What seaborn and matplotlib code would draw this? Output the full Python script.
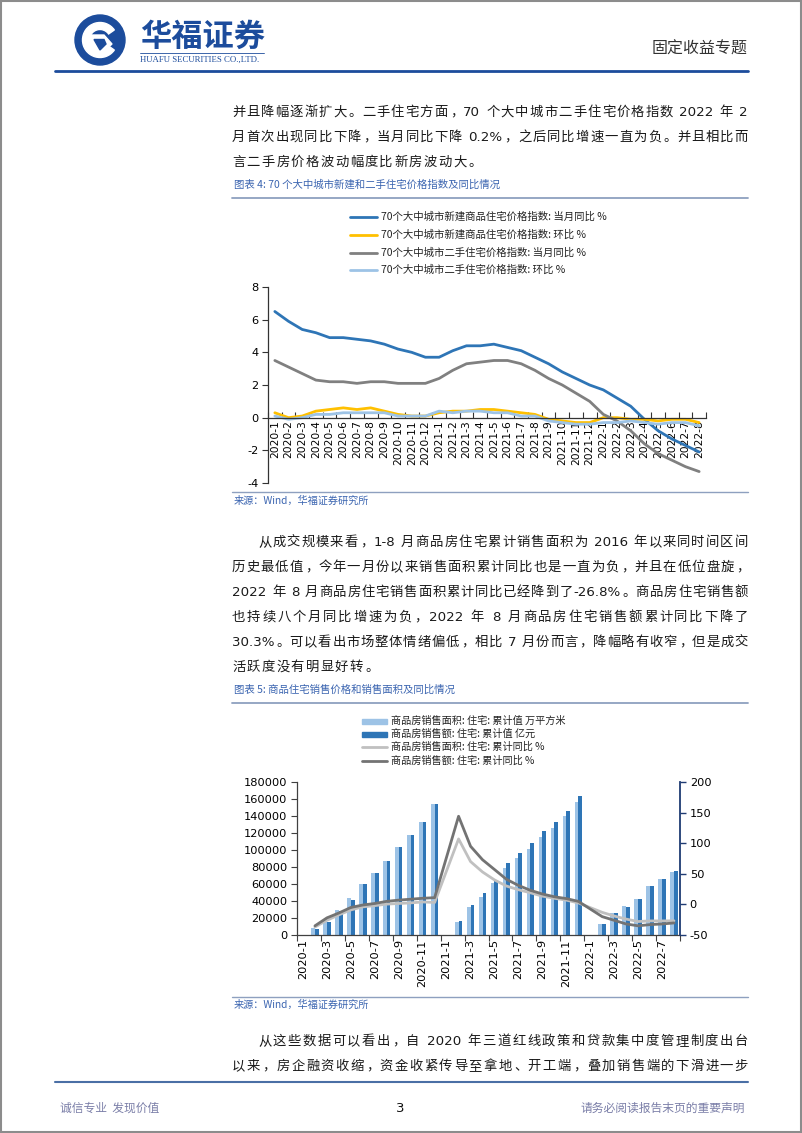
import numpy as np
import pandas as pd
import matplotlib
matplotlib.use("Agg")
import matplotlib.pyplot as plt
import seaborn as sns
from matplotlib.patches import Rectangle, Circle, Wedge, Polygon

# ---------------- data ----------------
months = ["2020-1", "2020-2", "2020-3", "2020-4", "2020-5", "2020-6", "2020-7", "2020-8",
          "2020-9", "2020-10", "2020-11", "2020-12", "2021-1", "2021-2", "2021-3", "2021-4",
          "2021-5", "2021-6", "2021-7", "2021-8", "2021-9", "2021-10", "2021-11", "2021-12",
          "2022-1", "2022-2", "2022-3", "2022-4", "2022-5", "2022-6", "2022-7", "2022-8"]

# chart 1 (%)
new_yoy = [6.5, 5.9, 5.4, 5.2, 4.9, 4.9, 4.8, 4.7, 4.5, 4.2, 4.0, 3.7, 3.7, 4.1, 4.4, 4.4,
           4.5, 4.3, 4.1, 3.7, 3.3, 2.8, 2.4, 2.0, 1.7, 1.2, 0.7, -0.1, -0.8, -1.3, -1.7, -2.1]
new_mom = [0.3, 0.0, 0.1, 0.4, 0.5, 0.6, 0.5, 0.6, 0.4, 0.2, 0.1, 0.1, 0.3, 0.4, 0.4, 0.5,
           0.5, 0.4, 0.3, 0.2, -0.1, -0.2, -0.3, -0.3, 0.0, 0.0, -0.1, -0.1, -0.2, -0.1, -0.1, -0.3]
sh_yoy = [3.5, 3.1, 2.7, 2.3, 2.2, 2.2, 2.1, 2.2, 2.2, 2.1, 2.1, 2.1, 2.4, 2.9, 3.3, 3.4,
          3.5, 3.5, 3.3, 2.9, 2.4, 2.0, 1.5, 1.0, 0.2, -0.2, -0.8, -1.6, -2.2, -2.6, -3.0, -3.3]
sh_mom = [0.1, -0.1, 0.0, 0.2, 0.2, 0.3, 0.3, 0.3, 0.3, 0.1, 0.1, 0.1, 0.4, 0.3, 0.4, 0.4,
          0.3, 0.3, 0.1, 0.1, -0.2, -0.3, -0.4, -0.4, -0.3, -0.3, -0.2, -0.3, -0.4, -0.3, -0.3, -0.5]
series1 = ["70个大中城市新建商品住宅价格指数: 当月同比 %",
           "70个大中城市新建商品住宅价格指数: 环比 %",
           "70个大中城市二手住宅价格指数: 当月同比 %",
           "70个大中城市二手住宅价格指数: 环比 %"]
colors1 = ["#2e75b6", "#ffc000", "#808080", "#9dc3e6"]

# chart 2
area_cum = [None, 7800, 18500, 30000, 43000, 60500, 73500, 87000, 103500, 118000, 133000, 154500,
            None, 15000, 32500, 45000, 61000, 79000, 91000, 101500, 115000, 126000, 139500, 157000,
            None, 13500, 26000, 34000, 42500, 58000, 65500, 74000]
amount_cum = [None, 6700, 15800, 27800, 41000, 59500, 72500, 87000, 103500, 118000, 133000, 154500,
              None, 17000, 35000, 49000, 63500, 85000, 97000, 108000, 122000, 133000, 146000, 163000,
              None, 13500, 26000, 33000, 42500, 57500, 66000, 75500]
area_yoy = [None, -37, -26, -17, -9, -4, -2, 0.5, 1.5, 2.5, 4, 3.2,
            None, 107, 70, 53, 40, 30, 24, 19, 13.5, 10, 7, 2.5,
            None, -13, -19, -24, -28, -27, -27, -26.8]
amount_yoy = [None, -35, -22, -14, -5, -1, 1.5, 5, 7, 8.5, 10, 11,
              None, 144, 95, 73, 57, 41, 31, 23, 17, 12.5, 9.5, 5,
              None, -20, -26, -32, -35, -33, -32, -30.3]
series2 = ["商品房销售面积: 住宅: 累计值 万平方米",
           "商品房销售额: 住宅: 累计值 亿元",
           "商品房销售面积: 住宅: 累计同比 %",
           "商品房销售额: 住宅: 累计同比 %"]
colors2 = ["#9dc3e6", "#2e75b6", "#c0c0c0", "#737373"]

left_ticks = [0, 20000, 40000, 60000, 80000, 100000, 120000, 140000, 160000, 180000]
right_ticks = [-50, 0, 50, 100, 150, 200]
y1_ticks = [-4, -2, 0, 2, 4, 6, 8]

# ---------------- setup ----------------
sns.set_theme(style="white")
plt.rcParams["font.family"] = ["Noto Sans CJK SC", "DejaVu Sans"]
plt.rcParams["axes.unicode_minus"] = False

W, H = 802, 1133
fig = plt.figure(figsize=(W / 100, H / 100), dpi=100)
fig.patch.set_facecolor("white")
page = fig.add_axes([0, 0, 1, 1], zorder=0)
page.set_xlim(0, W)
page.set_ylim(H, 0)
page.axis("off")
renderer = fig.canvas.get_renderer()


def fbox(x0, y0, x1, y1):
    return [x0 / W, 1 - y1 / H, (x1 - x0) / W, (y1 - y0) / H]


BLUE = "#1c4c9c"
CAP = "#3a64b0"
BODY_FS = 9.6
PUNCT = set("，。、：；！？")


def tokenize(s):
    toks, buf = [], ""
    for ch in s:
        if ch == " ":
            if buf:
                toks.append(buf)
                buf = ""
            toks.append(" ")
        elif ord(ch) < 128:
            buf += ch
        else:
            if buf:
                toks.append(buf)
                buf = ""
            toks.append(ch)
    if buf:
        toks.append(buf)
    return toks


def draw_line(s, x0, yc, x1=None, gap=1.4, fs=BODY_FS, color="#1a1a1a"):
    em = fs * 100 / 72
    toks = tokenize(s)
    widths = []
    for t in toks:
        if t == " ":
            widths.append(0.3 * em)
        elif len(t) == 1 and ord(t) >= 0x2E80:
            widths.append(em)
        else:
            tt = page.text(0, 0, t, fontsize=fs, family="DejaVu Sans")
            widths.append(tt.get_window_extent(renderer).width)
            tt.remove()
    if x1 is not None:
        gap = (x1 - x0 - sum(widths)) / (len(toks) - 1)
    x = x0
    base = yc + 0.36 * em
    for t, w in zip(toks, widths):
        if t != " ":
            if len(t) == 1 and ord(t) >= 0x2E80:
                if t in PUNCT:
                    page.text(x + 0.08 * em, base, t, ha="left", va="baseline", fontsize=fs, color=color)
                else:
                    page.text(x + w / 2, base, t, ha="center", va="baseline", fontsize=fs, color=color)
            else:
                page.text(x, base, t, ha="left", va="baseline", fontsize=fs, color=color,
                          family="DejaVu Sans")
        x += w + gap


# ---------------- page furniture ----------------
page.add_patch(Rectangle((0.75, 0.75), W - 1.5, H - 1.5, fill=False, ec="#8c8c8c", lw=1.5))
# logo
LC = (100, 40)
page.add_patch(Circle(LC, 25, color=BLUE))
page.add_patch(Wedge(LC, 17.5, 35, 325, width=7, color="white"))
page.add_patch(Polygon([[90, 35], [104, 35], [112, 44], [100, 55], [90, 45]], closed=True, color="white"))
page.add_patch(Polygon([[94, 39.5], [104, 39.5], [106, 44], [100, 50]], closed=True, color=BLUE))
page.text(140, 37, "华福证券", fontsize=22.5, fontweight="bold", color=BLUE, va="center", ha="left")
page.plot([140, 264], [53, 53], color=BLUE, lw=0.6)
page.text(140, 59.5, "HUAFU SECURITIES CO.,LTD.", fontsize=6.3, family="Liberation Serif",
          color=BLUE, va="center", ha="left")
page.text(748, 49, "固定收益专题", fontsize=11.5, color="#333333", ha="right", va="center")
page.plot([55, 748], [71, 71], color=BLUE, lw=2)

# paragraph 1
P1 = ["并且降幅逐渐扩大。二手住宅方面，70 个大中城市二手住宅价格指数 2022 年 2",
      "月首次出现同比下降，当月同比下降 0.2%，之后同比增速一直为负。并且相比而",
      "言二手房价格波动幅度比新房波动大。"]
draw_line(P1[0], 232, 111, 748)
draw_line(P1[1], 232, 136, 748)
draw_line(P1[2], 232, 161)

page.text(234, 185, "图表 4: 70 个大中城市新建和二手住宅价格指数及同比情况", fontsize=7.5,
          color=CAP, style="italic", va="center")
page.plot([232, 748], [198, 198], color="#8ea0bf", lw=1.3)
page.plot([232, 748], [492, 492], color="#8ea0bf", lw=1.0)
page.text(234, 501, "来源：Wind，华福证券研究所", fontsize=7.3, color=CAP, style="italic", va="center")

# paragraph 2
P2 = ["从成交规模来看，1-8 月商品房住宅累计销售面积为 2016 年以来同时间区间",
      "历史最低值，今年一月份以来销售面积累计同比也是一直为负，并且在低位盘旋，",
      "2022 年 8 月商品房住宅销售面积累计同比已经降到了-26.8%。商品房住宅销售额",
      "也持续八个月同比增速为负，2022 年 8 月商品房住宅销售额累计同比下降了",
      "30.3%。可以看出市场整体情绪偏低，相比 7 月份而言，降幅略有收窄，但是成交",
      "活跃度没有明显好转。"]
y = 541
for i, s in enumerate(P2):
    x0 = 258 if i == 0 else 232
    draw_line(s, x0, y, 748 if i < len(P2) - 1 else None)
    y += 25

page.text(234, 690, "图表 5: 商品住宅销售价格和销售面积及同比情况", fontsize=7.5,
          color=CAP, style="italic", va="center")
page.plot([232, 748], [703, 703], color="#8ea0bf", lw=1.3)
page.plot([232, 748], [997, 997], color="#8ea0bf", lw=1.0)
page.text(234, 1005, "来源：Wind，华福证券研究所", fontsize=7.3, color=CAP, style="italic", va="center")

P3 = ["从这些数据可以看出，自 2020 年三道红线政策和贷款集中度管理制度出台",
      "以来，房企融资收缩，资金收紧传导至拿地、开工端，叠加销售端的下滑进一步"]
draw_line(P3[0], 258, 1040, 748)
draw_line(P3[1], 232, 1065, 748)

# footer
page.plot([55, 748], [1082, 1082], color="#4a6fa5", lw=1.5)
page.text(60, 1108, "诚信专业  发现价值", fontsize=8.5, color="#7b7fa8", va="center", ha="left")
page.text(400, 1108, "3", fontsize=9.5, color="#111111", va="center", ha="center", family="DejaVu Sans")
page.text(745, 1108, "请务必阅读报告末页的重要声明", fontsize=8.5, color="#7b7fa8", va="center", ha="right")

# ---------------- chart 1 ----------------
leg_y1 = [217, 235, 253, 270]
for yy, lab, c in zip(leg_y1, series1, colors1):
    page.plot([350, 377], [yy, yy], color=c, lw=2)
    page.text(381, yy, lab, fontsize=7.5, color="#222222", va="center", ha="left")

pos = np.arange(len(months))
df1 = pd.concat([pd.DataFrame({"pos": pos, "val": v, "series": s})
                 for v, s in zip([new_yoy, new_mom, sh_yoy, sh_mom], series1)])
ax1 = fig.add_axes(fbox(268, 287, 706, 483))
ax1.patch.set_alpha(0)
sns.lineplot(data=df1, x="pos", y="val", hue="series", hue_order=series1, palette=colors1,
             linewidth=2, ax=ax1, legend=False)
for sp in ["top", "right"]:
    ax1.spines[sp].set_visible(False)
ax1.spines["bottom"].set_position(("data", 0))
for sp in ["left", "bottom"]:
    ax1.spines[sp].set_color("#333333")
    ax1.spines[sp].set_linewidth(0.9)
ax1.set_xlim(-0.5, len(months) - 0.5)
ax1.set_ylim(-4, 8)
ax1.set_yticks(y1_ticks)
ax1.set_yticklabels([str(t) for t in y1_ticks])
ax1.set_xticks(np.arange(-0.5, len(months), 1))
ax1.set_xticklabels([])
ax1.set_xticks(pos, minor=True)
ax1.set_xticklabels(months, minor=True)
ax1.tick_params(axis="x", which="major", bottom=True, direction="in", length=4, width=0.8, color="#333333")
ax1.tick_params(axis="x", which="minor", bottom=True, length=0, pad=2, labelrotation=90,
                labelsize=7.7, labelcolor="black")
ax1.tick_params(axis="y", left=True, direction="out", length=4, width=0.8, color="#333333", pad=3,
                labelsize=8.2, labelcolor="black")
for lab in ax1.get_xticklabels(minor=True) + ax1.get_yticklabels():
    lab.set_family("DejaVu Sans")
ax1.set_xlabel("")
ax1.set_ylabel("")

# ---------------- chart 2 ----------------
leg_y2 = [721, 734, 747, 761]
for i, (yy, lab, c) in enumerate(zip(leg_y2, series2, colors2)):
    if i < 2:
        page.add_patch(Rectangle((362, yy - 2.5), 25, 5, color=c))
    else:
        page.plot([362, 387], [yy, yy], color=c, lw=2)
    page.text(391, yy, lab, fontsize=7.3, color="#222222", va="center", ha="left")

df_bar = pd.concat([pd.DataFrame({"month": months, "val": v, "series": s})
                    for v, s in zip([area_cum, amount_cum], series2[:2])])
df_bar["val"] = pd.to_numeric(df_bar["val"])
df_bar = df_bar.dropna()
ax2 = fig.add_axes(fbox(297, 782, 680, 935))
ax2.patch.set_alpha(0)
sns.barplot(data=df_bar, x="month", y="val", hue="series", order=months, hue_order=series2[:2],
            palette=colors2[:2], width=0.62, saturation=1, errorbar=None, ax=ax2, legend=False)
for p in ax2.patches:
    p.set_linewidth(0)

ax2r = ax2.twinx()
df_line = pd.concat([pd.DataFrame({"pos": pos, "val": v, "series": s})
                     for v, s in zip([area_yoy, amount_yoy], series2[2:])])
df_line["val"] = pd.to_numeric(df_line["val"])
df_line = df_line.dropna()
sns.lineplot(data=df_line, x="pos", y="val", hue="series", hue_order=series2[2:],
             palette=colors2[2:], linewidth=2, ax=ax2r, legend=False)

for sp in ["top", "right"]:
    ax2.spines[sp].set_visible(False)
for sp in ["top", "left", "bottom"]:
    ax2r.spines[sp].set_visible(False)
ax2.spines["left"].set_color("#404040")
ax2.spines["bottom"].set_color("#404040")
ax2.spines["left"].set_linewidth(0.9)
ax2.spines["bottom"].set_linewidth(0.9)
ax2r.spines["right"].set_color("#1f3b73")
ax2r.spines["right"].set_linewidth(1.3)

ax2.set_ylim(0, 180000)
ax2.set_yticks(left_ticks)
ax2.set_yticklabels([str(t) for t in left_ticks])
ax2r.set_ylim(-50, 200)
ax2r.set_yticks(right_ticks)
ax2r.set_yticklabels([str(t) for t in right_ticks])
ax2.set_xlim(-0.5, len(months) - 0.5)
ax2.set_xticks(np.arange(-0.5, len(months), 2))
ax2.set_xticklabels([])
ax2.set_xticks(pos[::2], minor=True)
ax2.set_xticklabels(months[::2], minor=True)
ax2.tick_params(axis="x", which="major", bottom=True, direction="out", length=4, width=0.8, color="#404040")
ax2.tick_params(axis="x", which="minor", bottom=True, length=0, pad=3, labelrotation=90,
                labelsize=8.2, labelcolor="black")
ax2.tick_params(axis="y", left=True, direction="out", length=4, width=0.8, color="#404040", pad=3,
                labelsize=8.2, labelcolor="black")
ax2r.tick_params(axis="y", right=True, direction="out", length=4, width=1.0, color="#1f3b73", pad=3,
                 labelsize=8.2, labelcolor="black")
for lab in ax2.get_xticklabels(minor=True) + ax2.get_yticklabels() + ax2r.get_yticklabels():
    lab.set_family("DejaVu Sans")
for a in (ax2, ax2r):
    a.set_xlabel("")
    a.set_ylabel("")

fig.savefig("out.png", dpi=100, facecolor="white")
